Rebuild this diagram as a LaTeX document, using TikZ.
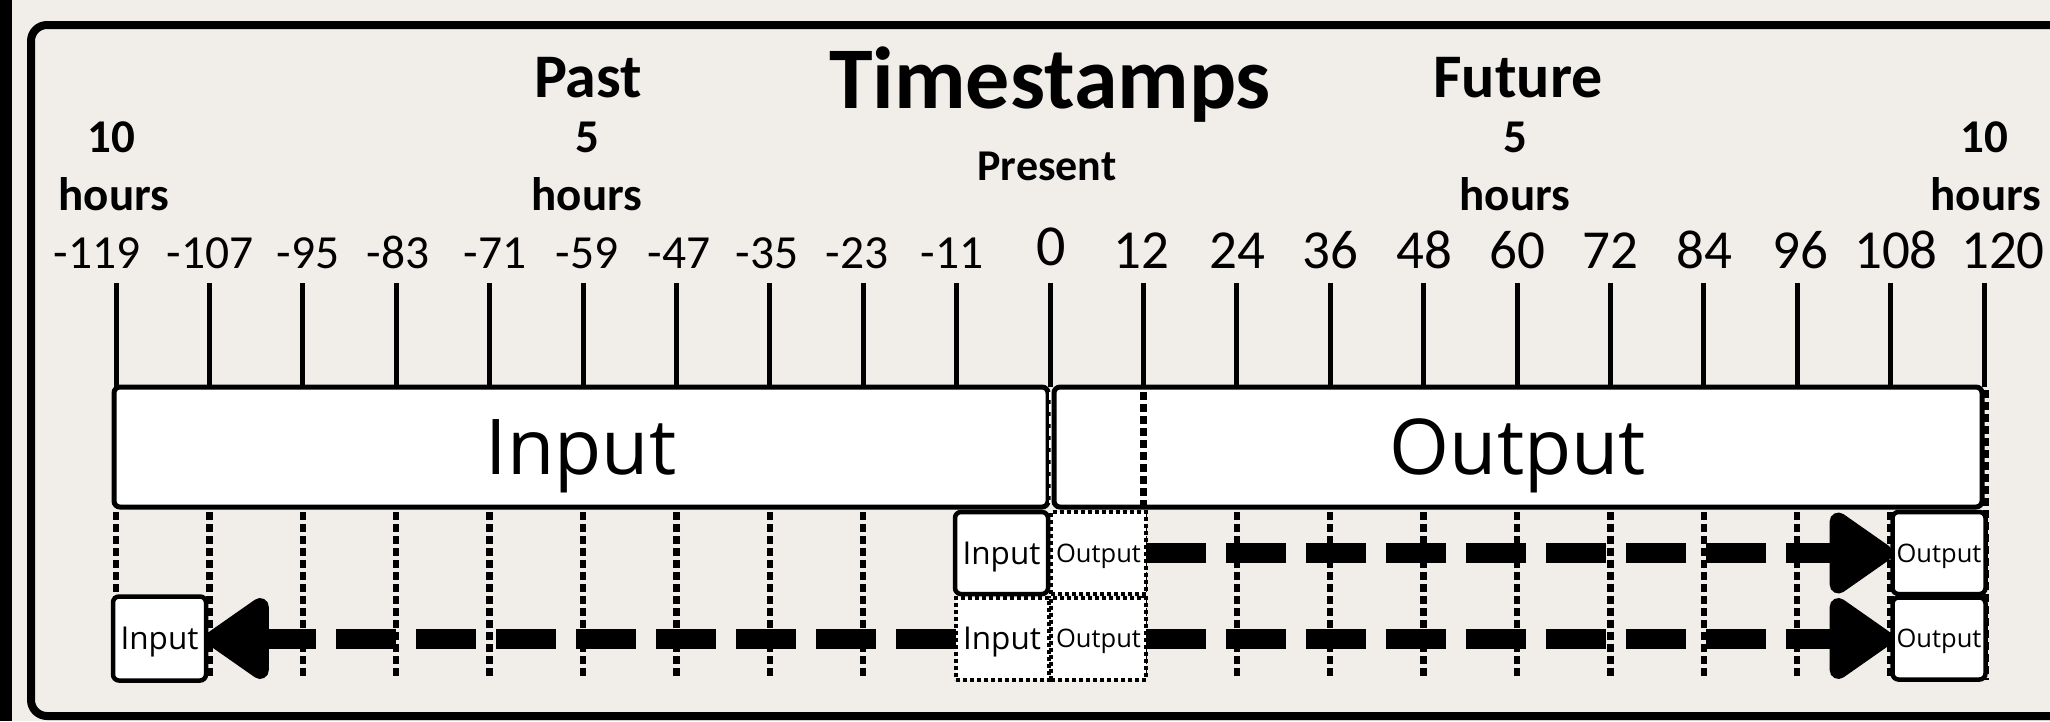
\documentclass[tikz,border=0pt]{standalone}
\usepackage{fontspec}
\setmainfont{Carlito}
\newfontfamily\boxfont{Open Sans}
\usetikzlibrary{arrows.meta}
\definecolor{paper}{RGB}{241,238,234}

\begin{document}
\begin{tikzpicture}[x=1pt,y=-1pt,
  tickline/.style={line width=5pt},
  guide/.style={line width=6.5pt, dash pattern=on 7.5pt off 4.5pt},
  bigbox/.style={draw, fill=white, line width=5pt, rounded corners=6pt,
    minimum height=120pt, inner sep=0pt, outer sep=0pt,
    font=\boxfont\fontsize{77}{80}\selectfont, text height=55pt, text depth=0pt},
  slot/.style={draw, fill=white, line width=4.5pt, rounded corners=6pt,
    inner sep=0pt, outer sep=0pt, minimum width=93pt, minimum height=82pt,
    text depth=0pt},
  ghost/.style={slot, line width=4pt, dash pattern=on 4pt off 3pt,
    rounded corners=0pt},
  insize/.style={font=\boxfont\fontsize{31.5}{33}\selectfont, text height=22pt},
  outsize/.style={font=\boxfont\fontsize{25.5}{27}\selectfont, text height=18pt},
  flow/.style={line width=20pt, dash pattern=on 60pt off 20pt, line join=round,
    -{Triangle[length=70pt,width=92pt,line width=18pt,round]}},
  lab/.style={anchor=base, inner sep=0pt, outer sep=0pt},
  negnum/.style={lab, font=\fontsize{47.5}{50}\selectfont},
  posnum/.style={lab, font=\fontsize{55}{58}\selectfont},
  head/.style={lab, font=\bfseries\fontsize{62}{64}\selectfont},
  span/.style={lab, font=\bfseries\fontsize{47}{49}\selectfont},
]
% page and outer frame
\useasboundingbox (0,0) rectangle (2050,721);
\clip (0,0) rectangle (2050,721);
\fill[paper] (0,0) rectangle (2050,721);
\fill[black] (0,0) rectangle (12,721);
\draw[line width=8pt, rounded corners=16pt] (31,25) rectangle (2090,716);

% tick marks, one per 12 steps
\foreach \i in {0,...,20}
  \draw[tickline] ({116+93.4*\i},283) -- ({116+93.4*\i},387);

% dotted guides below the bars
\draw[guide] (116,512) -- (116,597);
\foreach \i in {1,...,8,11,12,...,19}
  \draw[guide] ({116+93.4*\i},512) -- ({116+93.4*\i},680);

% input and output windows
\node[bigbox, minimum width=934pt] (inbar) at (581,447) {Input};
\node[bigbox, minimum width=928pt] (outbar) at (1518,447) {Output};
\draw[white, line width=1.5pt, dash pattern=on 8pt off 4pt] (1050,392) -- (1050,503);
\draw[guide] (1143.4,392) -- (1143.4,505);
\draw[guide] (1986,390) -- (1986,680);

% single-step slots around the present
\node[slot, insize] (inA) at (1001.5,553) {Input};
\node[ghost, outsize, minimum width=95pt] (outA) at (1098.5,553) {Output};
\node[ghost, insize] (inB) at (1002,638.5) {Input};
\node[ghost, outsize, minimum width=95pt] (outB) at (1098.5,638.5) {Output};

% slots at the far ends
\node[slot, insize, minimum height=84pt] (inFar) at (159.5,638.5) {Input};
\node[slot, outsize] (outFarA) at (1939,553) {Output};
\node[slot, outsize] (outFarB) at (1939,638.5) {Output};

% rolling-window arrows
\draw[flow] (outA.east) -- (outFarA.west);
\draw[flow] (outB.east) -- (outFarB.west);
\draw[flow] (inB.west) -- (inFar.east);

% headings
\node[lab, font=\bfseries\fontsize{88}{90}\selectfont] (title) at (1050,108) {Timestamps};
\node[head] (past) at (588,97) {Past};
\node[head] (future) at (1518,97) {Future};
\node[lab, font=\bfseries\fontsize{44}{46}\selectfont] (present) at (1047,180) {Present};

\node[span] (pten) at (111,152) {10};
\node[span] (ptenh) at (114,210) {hours};
\node[span] (pfive) at (587,152) {5};
\node[span] (pfiveh) at (587,210) {hours};
\node[span] (ffive) at (1515,152) {5};
\node[span] (ffiveh) at (1515,210) {hours};
\node[span] (ften) at (1984,152) {10};
\node[span] (ftenh) at (1986,210) {hours};

% step numbers
\foreach \x/\t [count=\k] in {97/-119,210/-107,308/-95,398/-83,495/-71,
    587/-59,679/-47,767/-35,857/-23,952/-11}
  \node[negnum] (neg\k) at (\x,268) {\t};
\node[lab, font=\fontsize{58}{60}\selectfont] (zero) at (1051,265) {0};
\foreach \x/\t [count=\k] in {1141/12,1237/24,1330/36,1424/48,1517/60,
    1610/72,1704/84,1800/96,1896/108,2003/120}
  \node[posnum] (pos\k) at (\x,268) {\t};
\end{tikzpicture}
\end{document}
